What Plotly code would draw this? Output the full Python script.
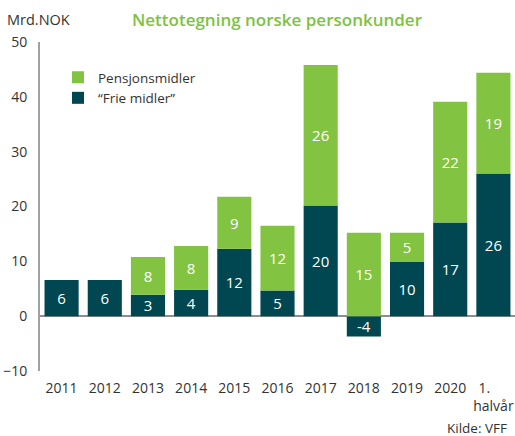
import plotly.graph_objects as go

categories = ["2011", "2012", "2013", "2014", "2015", "2016", "2017", "2018", "2019", "2020",
              "1.\u00a0\u00a0\u00a0\u00a0\u00a0<br>halvår"]
frie_values = [6.6, 6.6, 3.9, 4.8, 12.3, 4.7, 20.2, -3.7, 9.9, 17.1, 26.0]
frie_labels = ["6", "6", "3", "4", "12", "5", "20", "-4", "10", "17", "26"]
pensjon_values = [None, None, 6.9, 8.0, 9.5, 11.8, 25.6, 15.2, 5.3, 22.0, 18.4]
pensjon_labels = ["", "", "8", "8", "9", "12", "26", "15", "5", "22", "19"]
y_ticks = [-10, 0, 10, 20, 30, 40, 50]

DARK = "#004751"
GREEN = "#82c341"
TXT = "#333333"
FONT = "Open Sans"

W, H = 515, 436
L, R, T, B = 40, 0, 42, 65
pw, ph = W - L - R, H - T - B

def px(x):
    return (x - L) / pw

def py(y):
    return (H - B - y) / ph

fig = go.Figure()
fig.add_trace(go.Bar(
    x=categories, y=frie_values, name="\u201cFrie midler\u201d",
    marker=dict(color=DARK, line=dict(width=0)),
    text=frie_labels, textposition="inside", insidetextanchor="middle",
    textangle=0, constraintext="none",
    textfont=dict(color="white", size=15, family=FONT),
))
fig.add_trace(go.Bar(
    x=categories, y=pensjon_values, name="Pensjonsmidler",
    marker=dict(color=GREEN, line=dict(width=0)),
    text=pensjon_labels, textposition="inside", insidetextanchor="middle",
    textangle=0, constraintext="none",
    textfont=dict(color="white", size=15, family=FONT),
))

fig.update_layout(
    width=W, height=H,
    margin=dict(l=L, r=R, t=T, b=B),
    barmode="relative", bargap=0.21,
    plot_bgcolor="white", paper_bgcolor="white",
    font=dict(family=FONT, size=13, color=TXT),
    title=dict(text="Nettotegning norske personkunder", xref="container", yref="container",
               x=277 / W, y=1 - 20 / H, xanchor="center", yanchor="middle",
               font=dict(family=FONT, size=17, color="#7dc242", weight=600)),
    legend=dict(x=px(58), y=py(62), xanchor="left", yanchor="top",
                traceorder="reversed", font=dict(size=13.5, color=TXT),
                bgcolor="rgba(0,0,0,0)", itemclick=False),
    xaxis=dict(showgrid=False, showline=False, ticks="", ticklabelstandoff=7,
               tickfont=dict(size=14, color=TXT), fixedrange=True),
    yaxis=dict(range=[-10, 50], tickvals=y_ticks, showgrid=False,
               showline=True, linecolor="#a0a0a0", linewidth=2,
               zeroline=True, zerolinecolor="#8e8e8e", zerolinewidth=2,
               ticks="", ticklabelstandoff=8, tickfont=dict(size=14, color=TXT)),
    annotations=[
        dict(text="Mrd.NOK", xref="paper", yref="paper", x=px(5), y=py(20),
             xanchor="left", yanchor="middle", showarrow=False,
             font=dict(size=14.5, color=TXT)),
        dict(text="Kilde: VFF", xref="paper", yref="paper", x=px(509), y=py(428),
             xanchor="right", yanchor="middle", showarrow=False,
             font=dict(size=13.5, color=TXT)),
    ],
)

fig.write_html("out.html")
